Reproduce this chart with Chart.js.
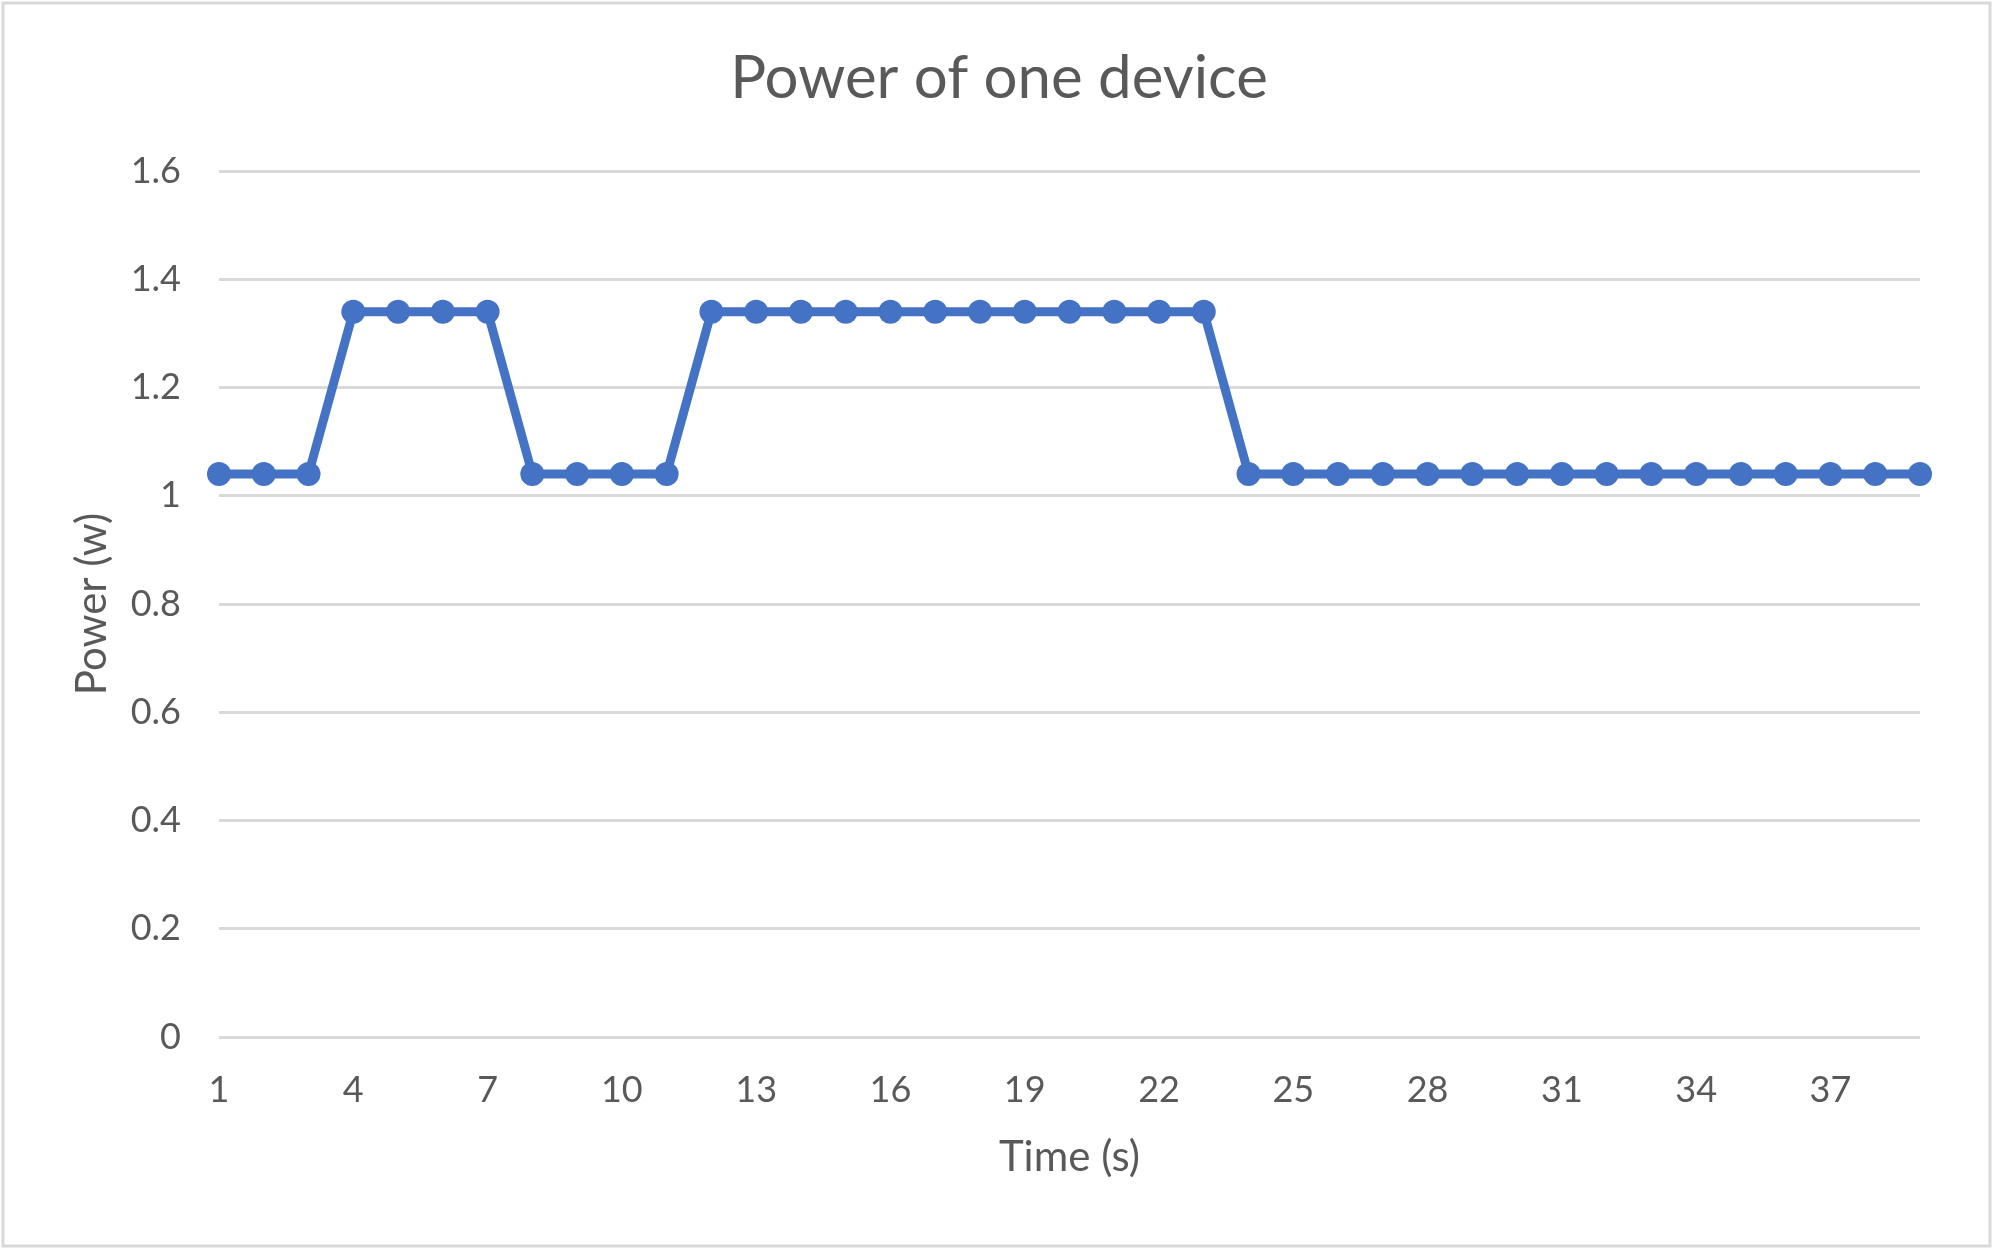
<!DOCTYPE html>
<html>
<head>
<meta charset="utf-8">
<script src="https://cdn.jsdelivr.net/npm/chart.js@4"></script>
<style>
  html, body { margin: 0; padding: 0; background: #fff; }
  canvas { display: block; }
</style>
</head>
<body>
<canvas id="powerChart" width="1998" height="1251"></canvas>
<script>
// ========== Data ==========
const timeLabels = Array.from({ length: 39 }, (_, i) => String(i + 1));
const powerValues = [
  1.04, 1.04, 1.04,
  1.34, 1.34, 1.34, 1.34,
  1.04, 1.04, 1.04, 1.04,
  1.34, 1.34, 1.34, 1.34, 1.34, 1.34, 1.34, 1.34, 1.34, 1.34, 1.34, 1.34,
  1.04, 1.04, 1.04, 1.04, 1.04, 1.04, 1.04, 1.04, 1.04, 1.04, 1.04, 1.04, 1.04, 1.04, 1.04, 1.04
];
const yTickLabels = ['0', '0.2', '0.4', '0.6', '0.8', '1', '1.2', '1.4', '1.6'];
const Y_MIN = 0, Y_MAX = 1.6, Y_STEP = 0.2;

const TEXT = '#595959';
const GRID = '#d9d9d9';
const BLUE = '#4472C4';
const FONT = 'Lato, "Open Sans", sans-serif';

// outer frame like the office chart area
const frame = {
  id: 'frame',
  beforeDraw(chart) {
    const c = chart.ctx;
    c.save();
    c.fillStyle = '#fff';
    c.fillRect(0, 0, chart.width, chart.height);
    c.strokeStyle = GRID;
    c.lineWidth = 3;
    c.strokeRect(3, 3, 1987, 1243);
    c.restore();
  }
};

new Chart(document.getElementById('powerChart').getContext('2d'), {
  type: 'line',
  data: {
    labels: timeLabels,
    datasets: [{
      label: 'Power',
      data: powerValues,
      borderColor: BLUE,
      backgroundColor: BLUE,
      borderWidth: 9,
      pointRadius: 12,
      pointBorderWidth: 0,
      pointBackgroundColor: BLUE,
      tension: 0
    }]
  },
  options: {
    responsive: false,
    animation: false,
    layout: { padding: 0 },
    plugins: {
      legend: { display: false },
      tooltip: { enabled: false },
      title: {
        display: true,
        text: 'Power of one device',
        color: TEXT,
        font: { family: FONT, size: 60, weight: 'normal' },
        padding: { top: 43, bottom: 56 }
      }
    },
    scales: {
      x: {
        type: 'category',
        offset: false,
        grid: { display: false, drawTicks: false },
        border: { display: false },
        ticks: {
          color: TEXT,
          font: { family: FONT, size: 36 },
          autoSkip: false,
          maxRotation: 0,
          padding: 32,
          callback: (v, i) => (i % 3 === 0 ? timeLabels[i] : '')
        },
        title: {
          display: true,
          text: 'Time (s)',
          color: TEXT,
          font: { family: FONT, size: 42 },
          padding: { top: 0, bottom: 68 }
        },
        afterFit: s => { s.height = 1251 - 1037; }
      },
      y: {
        min: Y_MIN,
        max: Y_MAX,
        grid: { color: GRID, lineWidth: 3, drawTicks: false },
        border: { display: false },
        ticks: {
          stepSize: Y_STEP,
          color: TEXT,
          font: { family: FONT, size: 36 },
          padding: 38,
          callback: (v, i) => yTickLabels[i]
        },
        title: {
          display: true,
          text: 'Power (w)',
          color: TEXT,
          font: { family: FONT, size: 42 },
          padding: { top: 67, bottom: 0 }
        },
        afterFit: s => { s.width = 219; }
      },
      // empty right-hand spacer so the title stays centred on the whole canvas
      spacer: {
        type: 'linear',
        position: 'right',
        grid: { display: false },
        border: { display: false },
        ticks: { display: false },
        afterFit: s => { s.width = 78; }
      }
    }
  },
  plugins: [frame]
});
</script>
</body>
</html>
